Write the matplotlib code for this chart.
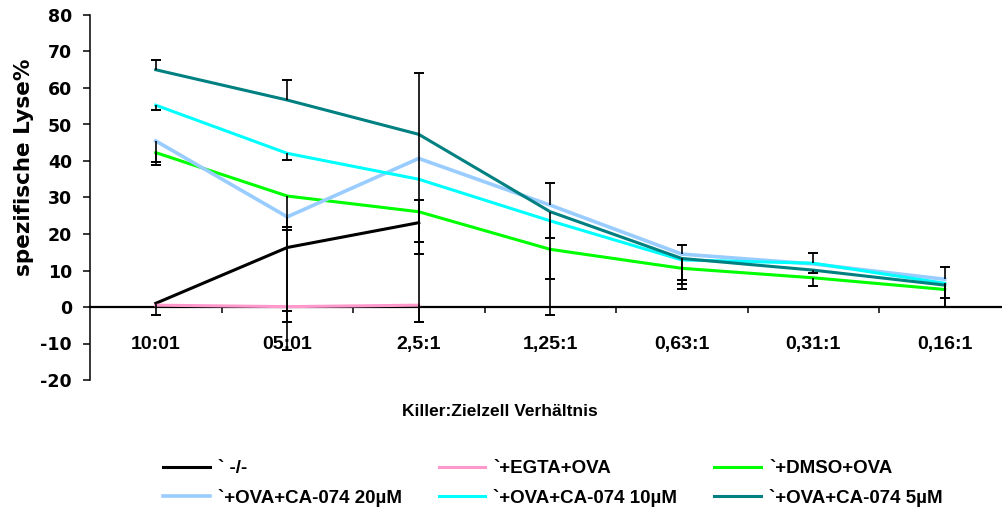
import matplotlib
matplotlib.use("Agg")
import matplotlib.pyplot as plt
import numpy as np

plt.rcParams['font.family'] = ['Liberation Sans', 'DejaVu Sans']
plt.rcParams['font.weight'] = 'bold'

categories = ["10:01", "05:01", "2,5:1", "1,25:1", "0,63:1", "0,31:1", "0,16:1"]
series_names = ["` -/-", "`+EGTA+OVA", "`+DMSO+OVA",
                "`+OVA+CA-074 20µM", "`+OVA+CA-074 10µM", "`+OVA+CA-074 5µM"]
series_colors = ["#000000", "#FF99CC", "#00FF00", "#99CCFF", "#00FFFF", "#008080"]
nan = np.nan

ko_vals    = [1.0, 16.3, 23.1, nan, nan, nan, nan]
egta_vals  = [0.5, 0.1, 0.5, nan, nan, nan, nan]
dmso_vals  = [42.3, 30.4, 26.1, 15.8, 10.6, 8.0, 4.8]
ca20_vals  = [45.5, 24.7, 40.7, 27.9, 14.5, 11.8, 7.6]
ca10_vals  = [55.3, 42.1, 35.0, 23.6, 12.9, 12.0, 6.5]
ca5_vals   = [65.0, 56.7, 47.3, 26.1, 13.3, 10.1, 6.0]

# error bars (minus / plus), nan = not shown
ko_err_minus   = [3.2, 28.1, 5.2, nan, nan, nan, nan]
ko_err_plus    = [nan, 4.8, 6.2, nan, nan, nan, nan]
egta_err_minus = [nan, 4.1, 4.5, nan, nan, nan, nan]
egta_err_plus  = [nan, nan, nan, nan, nan, nan, nan]
dmso_err_minus = [2.7, 8.4, 11.6, 8.1, 3.2, 2.2, 4.8]
dmso_err_plus  = [nan, nan, nan, nan, nan, nan, nan]
ca20_err_minus = [6.6, 25.7, nan, nan, nan, nan, nan]
ca20_err_plus  = [nan, nan, nan, 6.2, 2.5, nan, 3.3]
ca10_err_minus = [1.3, 1.8, nan, 25.8, 6.7, nan, 6.5]
ca10_err_plus  = [nan, nan, nan, nan, nan, 2.7, nan]
ca5_err_minus  = [nan, nan, 51.3, 7.3, 8.5, 0.9, 3.6]
ca5_err_plus   = [2.8, 5.5, 16.9, nan, nan, nan, nan]

values = [ko_vals, egta_vals, dmso_vals, ca20_vals, ca10_vals, ca5_vals]
err_minus = [ko_err_minus, egta_err_minus, dmso_err_minus,
             ca20_err_minus, ca10_err_minus, ca5_err_minus]
err_plus = [ko_err_plus, egta_err_plus, dmso_err_plus,
            ca20_err_plus, ca10_err_plus, ca5_err_plus]

y_ticks = list(range(-20, 81, 10))

W, H = 1003, 516
fig = plt.figure(figsize=(W / 100, H / 100), dpi=100)
ax = fig.add_axes([90 / W, (H - 380) / H, 920.5 / W, 365 / H])

x = np.arange(len(categories))
handles = []
lws = [2.2, 2.2, 2.2, 2.6, 2.2, 2.2]
for vals, name, col, lw in zip(values, series_names, series_colors, lws):
    h, = ax.plot(x, vals, color=col, lw=lw, label=name, zorder=3)
    handles.append(h)

# one-sided error bars: stem + cap
for vals, em, ep in zip(values, err_minus, err_plus):
    v = np.array(vals, dtype=float)
    for e, sign in ((np.array(em, dtype=float), -1), (np.array(ep, dtype=float), 1)):
        m = ~np.isnan(e) & ~np.isnan(v)
        if not m.any():
            continue
        ends = v[m] + sign * e[m]
        ax.vlines(x[m], v[m], ends, colors='black', lw=1.2, zorder=4)
        ax.plot(x[m], ends, ls='none', marker='_', ms=6.5, mew=1.4,
                color='black', zorder=4)

ax.set_xlim(-0.5, len(categories) - 0.5)
ax.set_ylim(-20, 80)

for s in ['top', 'right']:
    ax.spines[s].set_visible(False)
ax.spines['bottom'].set_position(('data', 0))
ax.spines['bottom'].set_linewidth(1.6)
ax.spines['left'].set_linewidth(1.1)

ax.set_yticks(y_ticks)
ax.set_yticklabels([str(t) for t in y_ticks], fontsize=12.5, fontweight='bold',
                   family='DejaVu Sans')
ax.tick_params(axis='y', direction='out', length=5, width=1.1, pad=8)

ax.set_xticks(x)
ax.set_xticklabels(categories, fontsize=14, fontweight='bold')
ax.tick_params(axis='x', which='major', length=0, pad=21)
ax.set_xticks(np.arange(0.5, len(categories) - 0.5, 1), minor=True)
ax.tick_params(axis='x', which='minor', direction='out', length=4, width=1.1)

fig.text(24 / W, 1 - 167 / H, "spezifische Lyse%", rotation=90, ha='center',
         va='center', fontsize=15.5, fontweight='bold', family='DejaVu Sans')
fig.text(500 / W, 1 - 411 / H, "Killer:Zielzell Verhältnis", ha='center', va='center',
         fontsize=12.5, fontweight='bold')

order = [0, 3, 1, 4, 2, 5]
fig.legend([handles[i] for i in order], [series_names[i] for i in order],
           ncol=3, loc='upper left', bbox_to_anchor=(163 / W, 1 - 460 / H),
           frameon=False, fontsize=13.5, handlelength=2.5, handletextpad=0.43,
           columnspacing=1.95, labelspacing=0.62, borderpad=0, borderaxespad=0)

fig.savefig("out.png", dpi=100)
